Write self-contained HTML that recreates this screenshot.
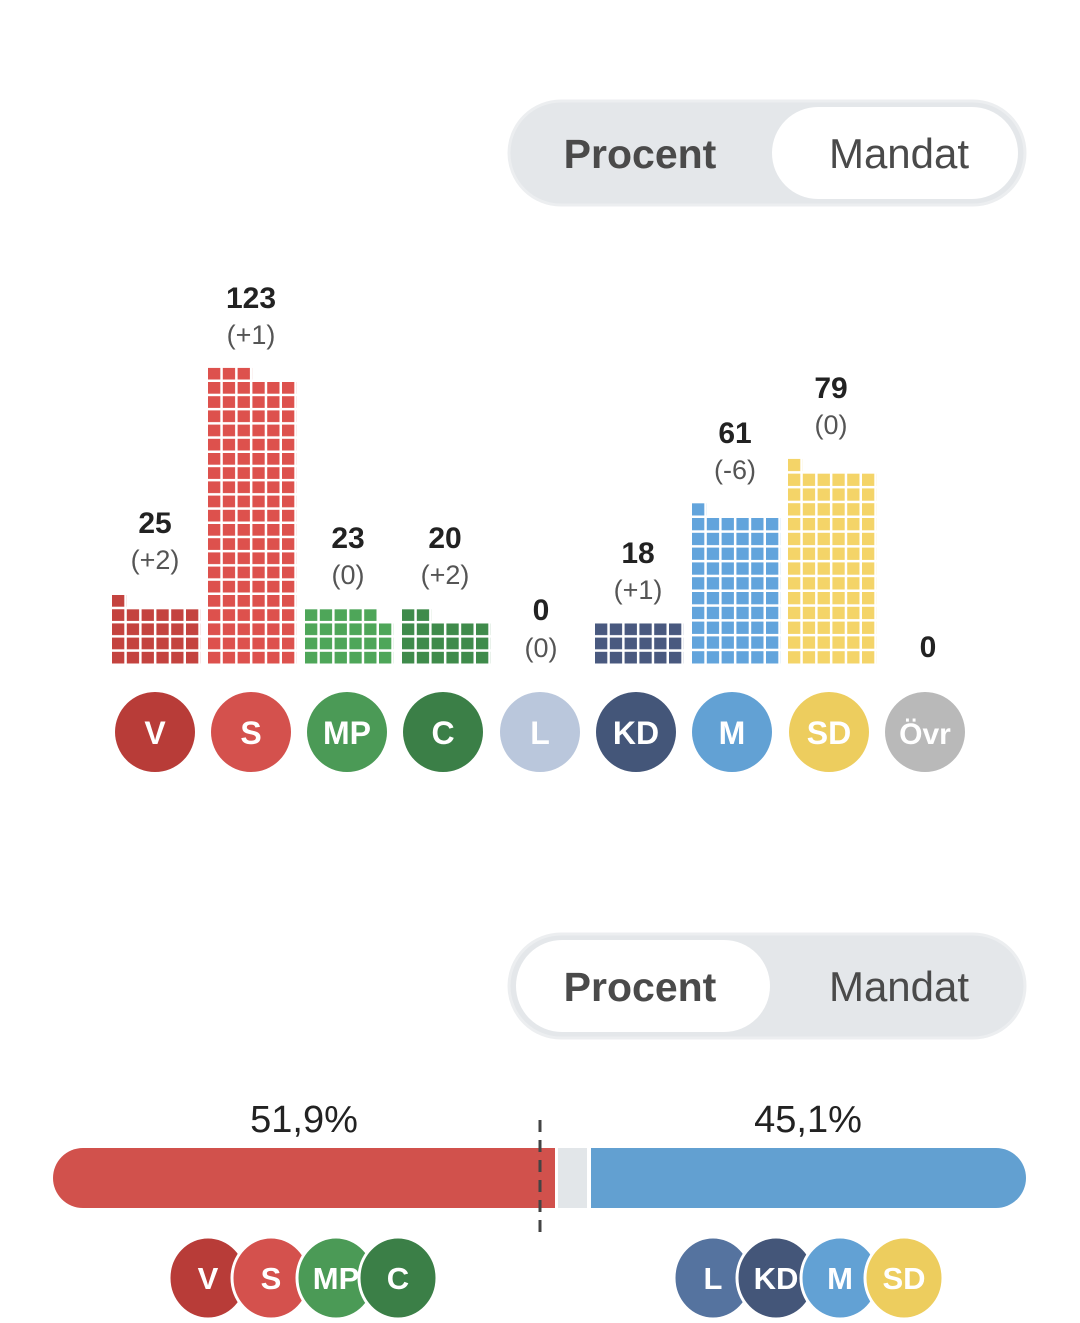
<!DOCTYPE html>
<html><head><meta charset="utf-8"><style>
html,body{margin:0;padding:0;background:#fff;}
svg{display:block;}
text{font-family:"Liberation Sans",sans-serif;}
</style></head><body>
<svg width="1080" height="1323" viewBox="0 0 1080 1323" xmlns="http://www.w3.org/2000/svg">
<defs>
<pattern id="pV" width="14.8" height="14.2" patternUnits="userSpaceOnUse"><rect width="12.3" height="11.7" fill="#c4433f"/></pattern>
<pattern id="pS" width="14.8" height="14.2" patternUnits="userSpaceOnUse"><rect width="12.3" height="11.7" fill="#dd514d"/></pattern>
<pattern id="pMP" width="14.8" height="14.2" patternUnits="userSpaceOnUse"><rect width="12.3" height="11.7" fill="#4ea659"/></pattern>
<pattern id="pC" width="14.8" height="14.2" patternUnits="userSpaceOnUse"><rect width="12.3" height="11.7" fill="#3f8b4b"/></pattern>
<pattern id="pKD" width="14.8" height="14.2" patternUnits="userSpaceOnUse"><rect width="12.3" height="11.7" fill="#49597f"/></pattern>
<pattern id="pM" width="14.8" height="14.8" patternUnits="userSpaceOnUse"><rect width="12.3" height="12.3" fill="#62a4dc"/></pattern>
<pattern id="pSD" width="14.8" height="14.8" patternUnits="userSpaceOnUse"><rect width="12.3" height="12.3" fill="#f4d468"/></pattern>
</defs>

<!-- Toggle 1 -->
<rect x="509" y="101" width="516" height="104" rx="52" fill="#e4e7ea" stroke="#eceef0" stroke-width="3"/>
<rect x="772" y="107" width="246" height="92" rx="46" fill="#fff"/>
<text x="640" y="168" text-anchor="middle" font-size="41" font-weight="bold" fill="#4a4a4a">Procent</text>
<text x="899" y="168" text-anchor="middle" font-size="42" fill="#4a4a4a">Mandat</text>

<!-- Waffle bars -->
<g transform="translate(112,666)"><rect y="-56.8" width="88.8" height="56.8" fill="url(#pV)"/><rect y="-71" width="14.8" height="14.2" fill="url(#pV)"/></g>
<g transform="translate(208,666)"><rect y="-284" width="88.8" height="284" fill="url(#pS)"/><rect y="-298.2" width="44.4" height="14.2" fill="url(#pS)"/></g>
<g transform="translate(305,666)"><rect y="-42.6" width="88.8" height="42.6" fill="url(#pMP)"/><rect y="-56.8" width="74" height="14.2" fill="url(#pMP)"/></g>
<g transform="translate(402,666)"><rect y="-42.6" width="88.8" height="42.6" fill="url(#pC)"/><rect y="-56.8" width="29.6" height="14.2" fill="url(#pC)"/></g>
<g transform="translate(595,666)"><rect y="-42.6" width="88.8" height="42.6" fill="url(#pKD)"/></g>
<g transform="translate(692,666)"><rect y="-148" width="88.8" height="148" fill="url(#pM)"/><rect y="-162.8" width="14.8" height="14.8" fill="url(#pM)"/></g>
<g transform="translate(788,666)"><rect y="-192.4" width="88.8" height="192.4" fill="url(#pSD)"/><rect y="-207.2" width="14.8" height="14.8" fill="url(#pSD)"/></g>

<!-- Labels -->
<g text-anchor="middle">
<g font-size="30" font-weight="bold" fill="#222">
<text x="155" y="533">25</text>
<text x="251" y="308">123</text>
<text x="348" y="548">23</text>
<text x="445" y="548">20</text>
<text x="541" y="620">0</text>
<text x="638" y="563">18</text>
<text x="735" y="443">61</text>
<text x="831" y="398">79</text>
<text x="928" y="657">0</text>
</g>
<g font-size="27" fill="#555">
<text x="155" y="569">(+2)</text>
<text x="251" y="344">(+1)</text>
<text x="348" y="584">(0)</text>
<text x="445" y="584">(+2)</text>
<text x="541" y="657">(0)</text>
<text x="638" y="599">(+1)</text>
<text x="735" y="479">(-6)</text>
<text x="831" y="434">(0)</text>
</g>
</g>

<!-- Party circles -->
<g font-weight="bold" font-size="32" fill="#fff" text-anchor="middle">
<circle cx="155" cy="732" r="40" fill="#b83c38"/><text x="155" y="744">V</text>
<circle cx="251" cy="732" r="40" fill="#d4514d"/><text x="251" y="744">S</text>
<circle cx="347" cy="732" r="40" fill="#4b9a56"/><text x="347" y="744">MP</text>
<circle cx="443" cy="732" r="40" fill="#3b7f47"/><text x="443" y="744">C</text>
<circle cx="540" cy="732" r="40" fill="#bac7dc"/><text x="540" y="744">L</text>
<circle cx="636" cy="732" r="40" fill="#445679"/><text x="636" y="744">KD</text>
<circle cx="732" cy="732" r="40" fill="#62a1d4"/><text x="732" y="744">M</text>
<circle cx="829" cy="732" r="40" fill="#edcd5e"/><text x="829" y="744">SD</text>
<circle cx="925" cy="732" r="40" fill="#b9b9b9"/><text x="925" y="744" font-size="30">Övr</text>
</g>

<!-- Toggle 2 -->
<rect x="509" y="934" width="516" height="104" rx="52" fill="#e4e7ea" stroke="#eceef0" stroke-width="3"/>
<rect x="516" y="940" width="254" height="92" rx="46" fill="#fff"/>
<text x="640" y="1001" text-anchor="middle" font-size="41" font-weight="bold" fill="#4a4a4a">Procent</text>
<text x="899" y="1001" text-anchor="middle" font-size="42" fill="#4a4a4a">Mandat</text>

<!-- Bloc bar -->
<text x="304" y="1132" text-anchor="middle" font-size="38" fill="#222">51,9%</text>
<text x="808" y="1132" text-anchor="middle" font-size="38" fill="#222">45,1%</text>
<path d="M83,1148 H555 V1208 H83 A30,30 0 0 1 83,1148 Z" fill="#d1514c"/>
<rect x="558" y="1148" width="29" height="60" fill="#e2e6e9"/>
<path d="M591,1148 H996 A30,30 0 0 1 996,1208 H591 Z" fill="#62a0d1"/>
<line x1="540" y1="1120" x2="540" y2="1236" stroke="#444" stroke-width="3" stroke-dasharray="12,8"/>

<!-- Bloc circles -->
<g font-weight="bold" font-size="31" fill="#fff" text-anchor="middle" stroke-width="3">
<ellipse cx="208" cy="1278" rx="39" ry="41" fill="#b83c38" stroke="#fff"/><text x="208" y="1289" stroke="none">V</text>
<ellipse cx="271" cy="1278" rx="39" ry="41" fill="#d4514d" stroke="#fff"/><text x="271" y="1289" stroke="none">S</text>
<ellipse cx="336" cy="1278" rx="39" ry="41" fill="#4b9a56" stroke="#fff"/><text x="336" y="1289" stroke="none">MP</text>
<ellipse cx="398" cy="1278" rx="39" ry="41" fill="#3b7f47" stroke="#fff"/><text x="398" y="1289" stroke="none">C</text>
<ellipse cx="713" cy="1278" rx="39" ry="41" fill="#55739f" stroke="#fff"/><text x="713" y="1289" stroke="none">L</text>
<ellipse cx="776" cy="1278" rx="39" ry="41" fill="#445679" stroke="#fff"/><text x="776" y="1289" stroke="none">KD</text>
<ellipse cx="840" cy="1278" rx="39" ry="41" fill="#62a1d4" stroke="#fff"/><text x="840" y="1289" stroke="none">M</text>
<ellipse cx="904" cy="1278" rx="39" ry="41" fill="#edcd5e" stroke="#fff"/><text x="904" y="1289" stroke="none">SD</text>
</g>
</svg>
</body></html>
